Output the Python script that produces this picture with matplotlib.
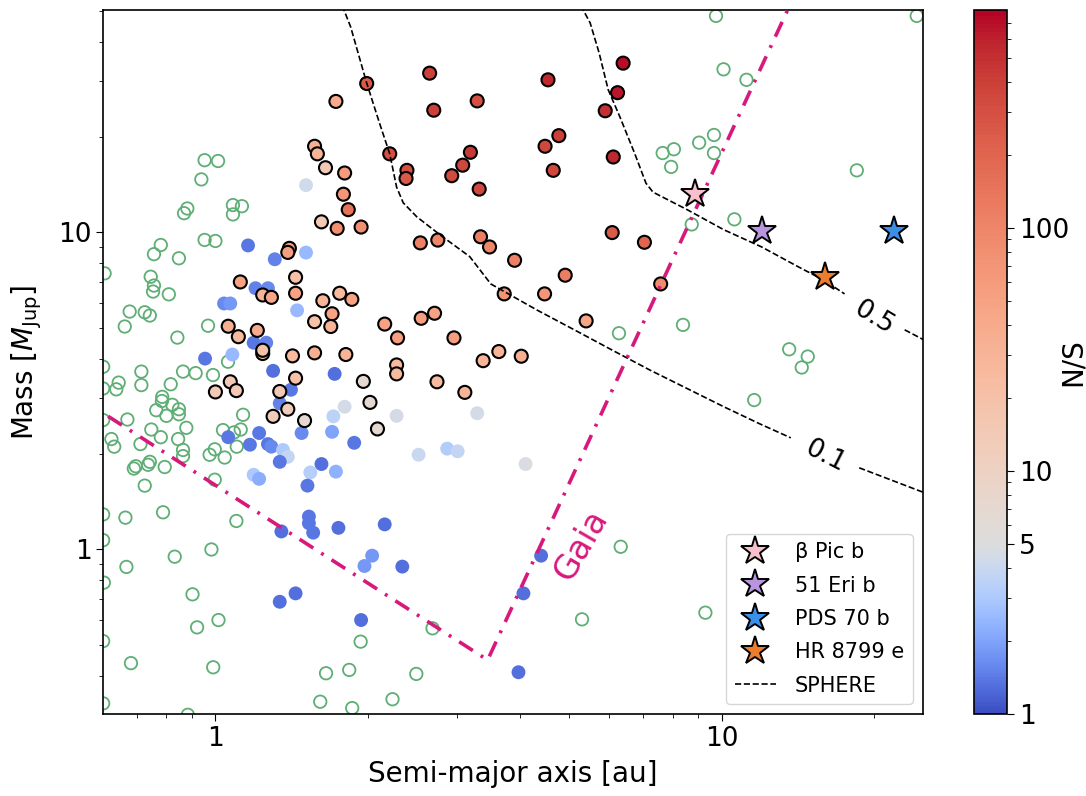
import numpy as np
import matplotlib
matplotlib.use('Agg')
import matplotlib.pyplot as plt
from matplotlib.colors import LogNorm, ListedColormap
from matplotlib.ticker import LogLocator, NullFormatter, FuncFormatter

# ---------------- data ----------------
# background population (open green circles)
pop_a = [0.952, 1.012, 0.938, 0.867, 0.880, 1.083, 1.128, 1.083, 0.952, 1.0,
         0.780, 0.756, 0.847, 0.604, 0.745, 0.756, 0.753, 0.809, 0.677, 0.662,
         0.725, 0.742, 0.967, 0.841, 0.714, 0.714, 0.644, 0.637, 0.600, 0.600,
         0.863, 0.914, 0.989, 0.816, 1.059, 0.785, 0.784, 0.822, 0.764, 0.800,
         0.847, 0.847, 0.876, 0.670, 0.600, 0.747, 0.780, 0.623, 0.631, 0.711,
         0.844, 0.863, 0.863, 1.134, 1.122, 1.035, 1.088, 0.997, 0.974, 1.043,
         0.742, 0.736, 0.696, 0.690, 0.794, 0.725, 0.997, 0.600, 0.664, 0.788,
         1.10, 0.600, 0.982, 0.831, 0.667, 0.602, 0.901, 1.014, 0.920, 0.600,
         0.681, 0.990, 0.882, 1.654, 1.838, 1.936, 2.685, 2.494, 1.611, 1.863,
         2.238, 0.600, 1.102, 9.75, 24.3, 10.09, 11.2, 7.65, 8.05, 7.95,
         9.03, 9.66, 9.66, 18.5, 10.6, 8.73, 8.39, 6.27, 13.6, 14.8,
         14.4, 11.6, 6.32, 5.30, 9.29]
pop_m = [16.9, 16.8, 14.7, 11.5, 11.9, 12.2, 12.1, 11.4, 9.47, 9.40,
         9.13, 8.54, 8.29, 7.43, 7.25, 6.80, 6.51, 6.38, 5.63, 5.05,
         5.60, 5.47, 5.08, 4.66, 3.64, 3.30, 3.36, 3.20, 3.77, 3.22,
         3.64, 3.60, 3.55, 3.32, 3.91, 3.03, 2.94, 2.86, 2.75, 2.64,
         2.77, 2.67, 2.42, 2.57, 2.56, 2.39, 2.26, 2.23, 2.11, 2.15,
         2.23, 2.06, 1.97, 2.66, 2.39, 2.38, 2.34, 2.07, 1.99, 1.95,
         1.89, 1.85, 1.83, 1.80, 1.82, 1.59, 1.66, 1.29, 1.26, 1.31,
         1.23, 1.07, 1.00, 0.949, 0.881, 0.786, 0.722, 0.599, 0.568, 0.514,
         0.438, 0.425, 0.301, 0.407, 0.417, 0.512, 0.564, 0.405, 0.331, 0.316,
         0.337, 0.327, 2.11, 48.2, 48.2, 32.7, 30.3, 17.8, 18.3, 16.1,
         19.2, 20.3, 17.8, 15.7, 11.0, 10.6, 5.11, 4.81, 4.28, 4.06,
         3.75, 2.96, 1.02, 0.602, 0.632]

# simulated planets with their N/S
det_a = [1.73, 1.99, 2.65, 2.70, 3.29, 1.57, 1.59, 1.65, 1.80, 2.21,
         2.39, 2.38, 3.19, 3.08, 2.93, 3.32, 1.79, 1.83, 1.62, 1.74,
         1.94, 2.54, 2.75, 3.34, 3.48, 3.90, 3.72, 4.47, 4.91, 4.54,
         4.48, 4.77, 4.65, 6.39, 6.23, 5.89, 6.11, 6.08, 7.04, 7.58,
         5.40, 4.02, 3.63, 3.38, 3.11, 2.74, 2.28, 2.28, 2.96, 2.71,
         2.55, 2.29, 2.16, 1.96, 2.02, 2.09, 1.12, 1.44, 1.44, 1.24,
         1.29, 1.40, 1.39, 1.63, 1.76, 1.86, 1.70, 1.57, 1.69, 1.06,
         1.11, 1.21, 1.24, 1.24, 1.42, 1.57, 1.81, 1.44, 1.07, 1.10,
         1.00, 1.34, 1.39, 1.30, 1.50,
         1.51, 1.51, 1.16, 1.31, 1.20, 1.27, 1.04, 1.07, 1.45, 1.19,
         1.26, 1.08, 0.954, 1.30, 1.72, 1.41, 1.34, 1.80, 1.71, 2.28,
         3.29, 2.87, 3.01, 2.52, 4.10, 1.06, 1.22, 1.17, 1.27, 1.29,
         1.36, 1.39, 1.34, 1.48, 1.70, 1.88, 1.62, 1.54, 1.73, 1.52,
         1.19, 1.22, 1.53, 1.53, 1.56, 1.35, 1.75, 2.16, 2.04, 1.97,
         2.34, 1.34, 1.44, 1.94, 4.40, 4.06, 3.97]
det_m = [25.9, 29.5, 31.8, 24.3, 26.0, 18.7, 17.7, 16.0, 15.4, 17.7,
         15.7, 14.8, 17.9, 16.3, 15.1, 13.7, 13.2, 11.8, 10.8, 10.3,
         10.4, 9.27, 9.46, 9.69, 9.0, 8.17, 6.40, 6.40, 7.33, 30.3,
         18.7, 20.2, 15.7, 34.2, 27.6, 24.2, 17.3, 9.99, 9.31, 6.88,
         5.26, 4.07, 4.21, 3.94, 3.13, 3.38, 3.82, 3.58, 4.65, 5.56,
         5.36, 4.65, 5.14, 3.39, 2.91, 2.40, 6.98, 7.22, 6.43, 6.35,
         6.24, 8.91, 8.65, 6.09, 6.43, 6.15, 5.54, 5.23, 5.05, 5.06,
         4.69, 4.91, 4.15, 4.25, 4.08, 4.17, 4.12, 3.47, 3.38, 3.17,
         3.14, 3.15, 2.77, 2.63, 2.55,
         14.1, 8.64, 9.10, 8.23, 6.67, 6.67, 5.97, 5.97, 5.68, 4.49,
         4.49, 4.12, 4.0, 3.66, 3.58, 3.19, 2.89, 2.82, 2.63, 2.64,
         2.69, 2.08, 2.04, 1.99, 1.86, 2.26, 2.33, 2.14, 2.15, 2.11,
         2.06, 1.96, 1.89, 2.33, 2.35, 2.17, 1.86, 1.75, 1.76, 1.59,
         1.72, 1.67, 1.27, 1.21, 1.13, 1.14, 1.17, 1.20, 0.956, 0.887,
         0.883, 0.684, 0.727, 0.599, 0.956, 0.727, 0.410]
det_sn = [40, 250, 400, 400, 300, 35, 30, 15, 60, 300,
          300, 250, 450, 350, 330, 350, 70, 150, 15, 80,
          80, 110, 100, 120, 100, 110, 70, 70, 120, 550,
          350, 400, 350, 700, 650, 500, 550, 250, 200, 90,
          45, 35, 30, 30, 30, 25, 25, 25, 55, 50,
          55, 55, 50, 7, 7, 7, 50, 20, 50, 30,
          45, 60, 55, 30, 25, 50, 50, 20, 30, 35,
          25, 40, 25, 20, 25, 35, 30, 20, 15, 15,
          15, 15, 12, 12, 7,
          4.3, 2.5, 1.4, 1.5, 1.5, 1.6, 1.6, 1.8, 2.5, 1.4,
          1.5, 2.5, 1.4, 1.3, 1.3, 1.4, 1.5, 4.5, 3.5, 4.5,
          4.5, 3.2, 3.8, 4.0, 4.8, 1.4, 1.4, 1.4, 1.4, 1.6,
          3.0, 3.8, 1.4, 1.6, 2.0, 1.4, 1.3, 3.3, 2.3, 1.4,
          3.0, 2.2, 1.4, 1.4, 1.4, 1.3, 1.3, 1.3, 1.8, 1.8,
          1.3, 1.3, 1.3, 1.3, 1.3, 1.3, 1.3]

# known directly imaged planets
planet_names = ['β Pic b', '51 Eri b', 'PDS 70 b', 'HR 8799 e']
planet_a = [8.88, 12.0, 21.9, 16.0]
planet_m = [13.2, 10.1, 10.1, 7.25]
planet_colors = ['#f7c0cc', '#b995e0', '#3a90e6', '#ec7d2c']

# SPHERE detection-probability contours
sphere01_a = [1.78, 1.85, 1.99, 2.11, 2.21, 2.28, 2.35, 2.50, 2.78, 3.18,
              3.50, 4.32, 5.13, 6.07, 7.22, 8.82, 10.1, 11.9, 13.7]
sphere01_m = [52, 44.5, 29.6, 22.1, 17.7, 13.9, 12.4, 11.2, 9.82, 8.39,
              6.88, 5.69, 4.92, 4.26, 3.68, 3.14, 2.82, 2.49, 2.25]
sphere01b_a = [18.7, 26.0]
sphere01b_m = [1.81, 1.48]
sphere05_a = [5.27, 5.50, 5.73, 5.97, 6.30, 6.73, 7.09, 7.32, 8.55, 10.1,
              12.0, 14.2, 15.9, 17.5]
sphere05_m = [52, 45.8, 36.8, 28.2, 23.1, 17.8, 14.3, 13.4, 11.8, 10.2,
              9.0, 7.78, 7.08, 6.40]
sphere05b_a = [23.0, 26.0]
sphere05b_m = [4.93, 4.45]

# Gaia sensitivity limit
gaia_a = [0.614, 3.45, 13.65]
gaia_m = [2.63, 0.448, 52.2]

# ---------------- style ----------------
plt.rcParams['font.family'] = ['DejaVu Sans']
GAIA_COL = '#d8197c'
GREEN = '#5fae76'

vmin, vmax, vmid = 1.0, 790.0, 5.0
f = np.linspace(0, 1, 512)
f5 = np.log10(vmid) / np.log10(vmax)
g = np.where(f < f5, 0.5 * f / f5, 0.5 + 0.5 * (f - f5) / (1 - f5))
cmap = ListedColormap(plt.get_cmap('coolwarm')(g))
norm = LogNorm(vmin=vmin, vmax=vmax)

fig = plt.figure(figsize=(10.86, 7.96), dpi=100)
ax = fig.add_axes([0.0953, 0.1026, 0.7546, 0.8848])
cax = fig.add_axes([0.8967, 0.1026, 0.0306, 0.8848])

ax.set_xscale('log')
ax.set_yscale('log')

ax.scatter(pop_a, pop_m, s=80, facecolors='none', edgecolors=GREEN,
           linewidths=1.3, zorder=2)

det_a = np.asarray(det_a); det_m = np.asarray(det_m); det_sn = np.asarray(det_sn)
low = det_sn < 5
sc = ax.scatter(det_a[low], det_m[low], c=det_sn[low], cmap=cmap, norm=norm,
                s=100, edgecolors='none', zorder=3)
ax.scatter(det_a[~low], det_m[~low], c=det_sn[~low], cmap=cmap, norm=norm,
           s=88, edgecolors='black', linewidths=1.5, zorder=4)

# SPHERE contours
ax.plot(sphere01_a, sphere01_m, color='black', ls='--', lw=1.2, zorder=5)
ax.plot(sphere01b_a, sphere01b_m, color='black', ls='--', lw=1.2, zorder=5)
sph_handle, = ax.plot(sphere05_a, sphere05_m, color='black', ls='--', lw=1.2,
                      zorder=5, label='SPHERE')
ax.plot(sphere05b_a, sphere05b_m, color='black', ls='--', lw=1.2, zorder=5)
ax.text(20.0, 5.36, '0.5', fontsize=19, rotation=-31, ha='center', va='center',
        zorder=6)
ax.text(16.0, 1.97, '0.1', fontsize=19, rotation=-27, ha='center', va='center',
        zorder=6)

# Gaia
gl, = ax.plot(gaia_a, gaia_m, color=GAIA_COL, lw=2.6, zorder=6)
gl.set_dashes([4.5, 2.6, 0.8, 2.6])
ax.text(5.28, 1.03, 'Gaia', color=GAIA_COL, fontsize=24, rotation=60,
        ha='center', va='center', zorder=6)

# Known planets
handles = []
for nm, a, m, c in zip(planet_names, planet_a, planet_m, planet_colors):
    h, = ax.plot([a], [m], ls='none', marker='*', ms=21, mfc=c, mec='black',
                 mew=1.4, zorder=7, label=nm)
    handles.append(h)

leg = ax.legend(handles=handles + [sph_handle], loc='lower right', fontsize=15,
                labelspacing=0.64, borderaxespad=0.5, handletextpad=0.9)
leg.set_zorder(10)

ax.set_xlim(0.601, 25.0)
ax.set_ylim(0.302, 50.3)

fmt = FuncFormatter(lambda v, p: f'{v:g}')
for axis in (ax.xaxis, ax.yaxis):
    axis.set_major_locator(LogLocator(base=10))
    axis.set_minor_locator(LogLocator(base=10, subs=np.arange(2, 10)))
    axis.set_major_formatter(fmt)
    axis.set_minor_formatter(NullFormatter())
ax.tick_params(axis='both', which='major', labelsize=19, length=5)
ax.tick_params(axis='both', which='minor', length=3)
for sp in ax.spines.values():
    sp.set_linewidth(1.2)

ax.set_xlabel('Semi-major axis [au]', fontsize=20, labelpad=6)
ax.set_ylabel(r'Mass [$M_{\rm Jup}$]', fontsize=20, labelpad=10)

cbar = fig.colorbar(sc, cax=cax)
cbar.set_ticks([1, 5, 10, 100])
cbar.set_ticklabels(['1', '5', '10', '100'])
cax.yaxis.set_minor_locator(LogLocator(base=10, subs=np.arange(2, 10)))
cax.yaxis.set_minor_formatter(NullFormatter())
cax.tick_params(which='major', labelsize=19, length=5)
cax.tick_params(which='minor', length=3)
cbar.outline.set_linewidth(1.2)
cbar.set_label('N/S', fontsize=20)
cax.yaxis.set_label_coords(2.55, 0.5)

fig.savefig('out.png', dpi=100)
